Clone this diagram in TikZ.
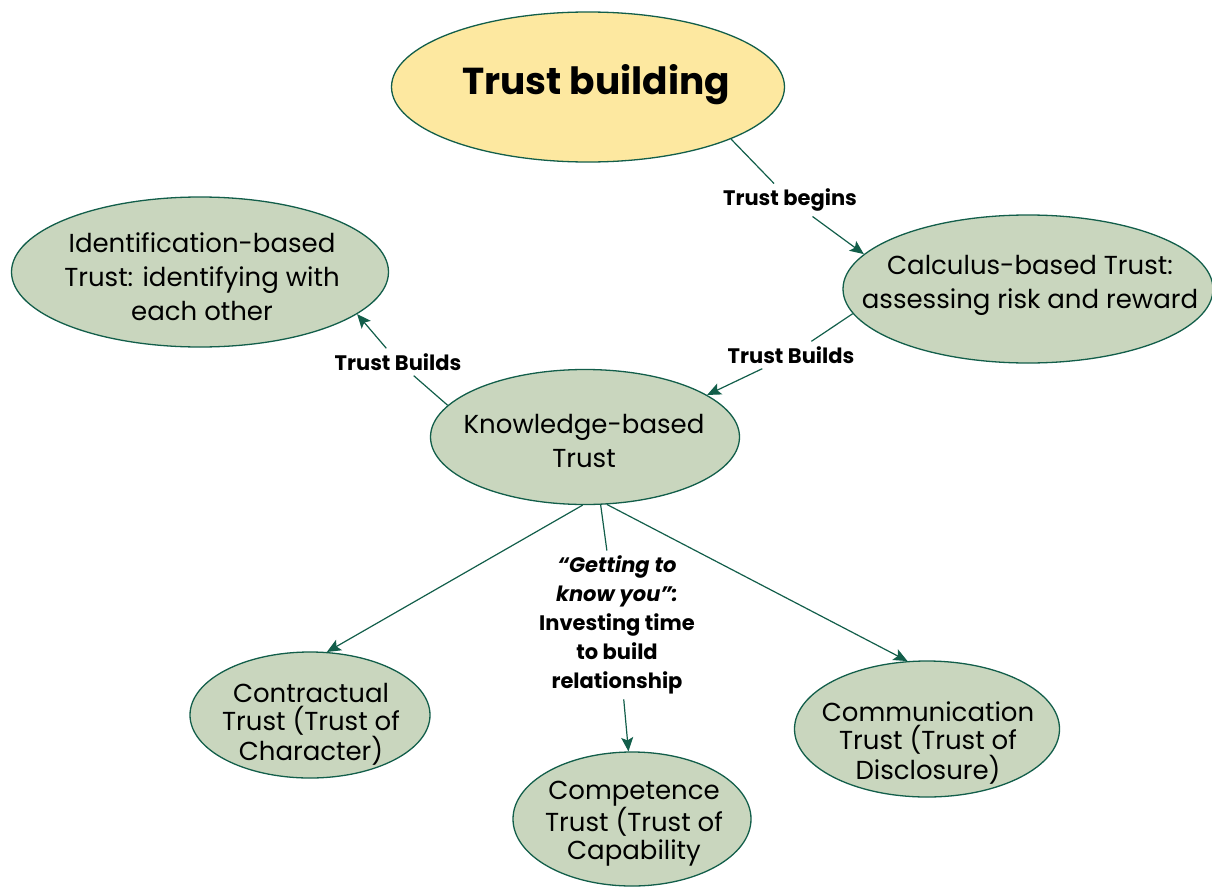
\documentclass[tikz,border=0pt]{standalone}
\usepackage{fontspec}
\setmainfont{Poppins}
\usetikzlibrary{shapes.geometric,arrows.meta}
\definecolor{leafgreen}{RGB}{201,214,190}
\definecolor{rootyellow}{RGB}{253,232,160}
\definecolor{edgegreen}{RGB}{18,94,74}
\tikzset{
  bubble/.style={ellipse, draw=edgegreen, line width=1.3pt, fill=leafgreen, inner sep=0pt},
  bubbletext/.style={align=center, font=\fontsize{26}{34}\selectfont, inner sep=0pt},
  smalltext/.style={align=center, font=\fontsize{26}{28}\selectfont, inner sep=0pt},
  steplabel/.style={align=center, font=\bfseries\fontsize{21}{29}\selectfont, inner sep=5pt},
  link/.style={draw=edgegreen, line width=1.2pt},
  arrowlink/.style={link, -{Stealth[length=14pt,width=12pt,inset=3pt]}},
}
\begin{document}
\begin{tikzpicture}[x=1pt,y=-1pt]
    \useasboundingbox (0,0) rectangle (1212,886);
    % ellipses
    \node[bubble, fill=rootyellow, minimum width=393pt, minimum height=150pt] (root) at (588,87) {};
    \node[bubble, minimum width=377pt, minimum height=150pt] (ident) at (200,272) {};
    \node[bubble, minimum width=370pt, minimum height=148pt] (calc) at (1028,289) {};
    \node[bubble, minimum width=309pt, minimum height=135pt] (know) at (585,437) {};
    \node[bubble, minimum width=240pt, minimum height=126pt] (contr) at (310,715) {};
    \node[bubble, minimum width=238pt, minimum height=134pt] (comp) at (632,819) {};
    \node[bubble, minimum width=265pt, minimum height=136pt] (comm) at (927,729) {};
    % texts inside the ellipses
    \node[font=\bfseries\fontsize{37.5}{44}\selectfont] (root-t) at (596,85) {Trust building};
    \node[bubbletext] (ident-t) at (202,277) {Identification-based\\Trust: identifying with\\each other};
    \node[bubbletext] (calc-t) at (1030,285) {Calculus-based Trust:\\assessing risk and reward};
    \node[bubbletext] (know-t) at (584,441) {Knowledge-based\\Trust};
    \node[smalltext] (contr-t) at (311,724) {Contractual\\Trust (Trust of\\Character)};
    \node[smalltext] (comp-t) at (634,824) {Competence\\Trust (Trust of\\Capability};
    \node[smalltext] (comm-t) at (928,743) {Communication\\Trust (Trust of\\Disclosure)};
    % labels on the connectors
    \node[steplabel] (lb1) at (790,200) {Trust begins};
    \node[steplabel] (lb2) at (791,355) {Trust Builds};
    \node[steplabel] (lb3) at (398,362) {Trust Builds};
    \node[steplabel] (lb4) at (617,625) {\textit{“Getting to}\\\textit{know you”:}\\Investing time\\to build\\relationship};
    % connectors
    \draw[link] (root.-20) -- (lb1);
    \draw[arrowlink] (lb1) -- (calc.168);
    \draw[link] (calc.188) -- (lb2);
    \draw[arrowlink] (lb2) -- (know.19);
    \draw[link] (know.167) -- (lb3);
    \draw[arrowlink] (lb3) -- (ident.-15);
    \draw[arrowlink] (know.-92) -- (contr.75);
    \draw[arrowlink] (know.-72) -- (comm.106);
    \draw[link] (know.-77) -- (lb4);
    \draw[arrowlink] (lb4) -- (comp.93);
\end{tikzpicture}
\end{document}
